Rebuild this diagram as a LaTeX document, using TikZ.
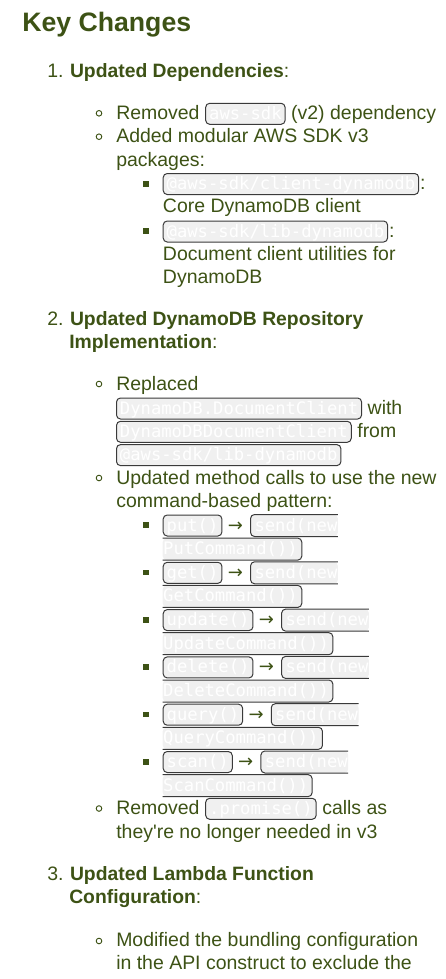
\documentclass[tikz,border=0pt]{standalone}
\usepackage{fontspec}
\setmainfont{Liberation Sans}
\setmonofont{DejaVu Sans Mono}
\newfontfamily\arrowfont{DejaVu Sans}
\usetikzlibrary{positioning}
\definecolor{ink}{RGB}{61,82,21}
\definecolor{codebg}{RGB}{240,240,240}
\definecolor{codeline}{RGB}{58,58,58}
\pgfdeclarelayer{bg}
\pgfsetlayers{bg,main}

\begin{document}
\begin{tikzpicture}[x=0.75pt,y=0.75pt,yscale=-1,xscale=1,
    txt/.style={anchor=base west, inner sep=0pt, text=ink, font=\fontsize{14.6}{17}\selectfont},
    itemhead/.style={txt, font=\fontsize{14.5}{17}\selectfont},
    num/.style={txt},
    arr/.style={txt, font=\fontsize{13.5}{15}\arrowfont},
    ring/.style={circle, draw=ink, line width=0.7pt, minimum size=4.2pt, inner sep=0pt},
    sq/.style={rectangle, fill=ink, minimum size=4.3pt, inner sep=0pt},
    codebox/.style={anchor=base west, font=\fontsize{12.9}{15}\ttfamily, text=white, draw=codeline, fill=codebg, line width=0.75pt, rounded corners=3pt, inner xsep=2.6pt, inner ysep=0pt, text height=12pt, text depth=3.75pt},
    codepart/.style={codebox, draw=none, fill=none, inner xsep=0pt},
    boxfill/.style={fill=codebg, rounded corners=3pt},
    boxline/.style={draw=codeline, line width=0.75pt, rounded corners=3pt},
    headpath/.style={insert path={(#1.north east) -- ([xshift=-2.6pt]#1.north west) -- ([xshift=-2.6pt]#1.south west) -- (#1.south east)}},
    tailpath/.style={insert path={(#1.north west) -- ([xshift=2.6pt]#1.north east) -- ([xshift=2.6pt]#1.south east) -- (#1.south west)}}]
        \useasboundingbox (0,0) rectangle (446,979);

        \node[txt, font=\fontsize{20}{24}\bfseries] (title) at (22,31) {Key Changes};

        % 1. dependencies
        \node[num] (n1) at (47,77) {1.};
        \node[itemhead, base right=4.5pt of n1] (h1) {\textbf{Updated Dependencies}:};
        \node[ring] (r11) at (99,113.3) {};
        \node[txt] (t11) at (116,119.3) {Removed};
        \node[codebox, base right=4pt of t11] (c11) {aws-sdk};
        \node[txt, base right=4pt of c11] (t12) {(v2) dependency};
        \node[ring] (r12) at (99,136.7) {};
        \node[txt] (t13) at (116,142.7) {Added modular AWS SDK v3};
        \node[txt] (t14) at (116,166) {packages:};
        \node[sq] (q11) at (146,183.8) {};
        \node[codebox] (c12) at (162.7,189.5) {@aws-sdk/client-dynamodb};
        \node[txt, base right=0.5pt of c12] (t15) {:};
        \node[txt] (t16) at (162.7,212.7) {Core DynamoDB client};
        \node[sq] (q12) at (146,231.3) {};
        \node[codebox] (c13) at (162.7,237) {@aws-sdk/lib-dynamodb};
        \node[txt, base right=0.5pt of c13] (t17) {:};
        \node[txt] (t18) at (162.7,260) {Document client utilities for};
        \node[txt] (t19) at (162.7,283.5) {DynamoDB};

        % 2. repository
        \node[num] (n2) at (47,325) {2.};
        \node[itemhead, base right=4.5pt of n2] (h2) {\textbf{Updated DynamoDB Repository}};
        \node[itemhead] (h2b) at (69,348.3) {\textbf{Implementation}:};
        \node[ring] (r21) at (99,384) {};
        \node[txt] (t21) at (116,390) {Replaced};
        \node[codebox] (c21) at (116,414) {DynamoDB.DocumentClient};
        \node[txt, base right=4pt of c21] (t22) {with};
        \node[codebox] (c22) at (116,437.3) {DynamoDBDocumentClient};
        \node[txt, base right=4pt of c22] (t23) {from};
        \node[codebox] (c23) at (116,460.6) {@aws-sdk/lib-dynamodb};
        \node[ring] (r22) at (99,478) {};
        \node[txt] (t24) at (116,484) {Updated method calls to use the new};
        \node[txt] (t25) at (116,507.4) {command-based pattern:};

        \node[sq] (q1) at (146,525.3) {};
        \node[codebox] (m1) at (162.7,531) {put()};
        \node[arr, base right=3.9pt of m1] (a1) {→};
        \node[codepart, base right=8.1pt of a1] (s1) {send(new};
        \node[codepart] (p1) at (162.7,554.6) {PutCommand())};

        \node[sq] (q2) at (146,572.6) {};
        \node[codebox] (m2) at (162.7,578.3) {get()};
        \node[arr, base right=3.9pt of m2] (a2) {→};
        \node[codepart, base right=8.1pt of a2] (s2) {send(new};
        \node[codepart] (p2) at (162.7,601.9) {GetCommand())};

        \node[sq] (q3) at (146,619.9) {};
        \node[codebox] (m3) at (162.7,625.6) {update()};
        \node[arr, base right=3.9pt of m3] (a3) {→};
        \node[codepart, base right=8.1pt of a3] (s3) {send(new};
        \node[codepart] (p3) at (162.7,649.2) {UpdateCommand())};

        \node[sq] (q4) at (146,667.2) {};
        \node[codebox] (m4) at (162.7,672.9) {delete()};
        \node[arr, base right=3.9pt of m4] (a4) {→};
        \node[codepart, base right=8.1pt of a4] (s4) {send(new};
        \node[codepart] (p4) at (162.7,696.5) {DeleteCommand())};

        \node[sq] (q5) at (146,714.5) {};
        \node[codebox] (m5) at (162.7,720.2) {query()};
        \node[arr, base right=3.9pt of m5] (a5) {→};
        \node[codepart, base right=8.1pt of a5] (s5) {send(new};
        \node[codepart] (p5) at (162.7,743.8) {QueryCommand())};

        \node[sq] (q6) at (146,761.8) {};
        \node[codebox] (m6) at (162.7,767.5) {scan()};
        \node[arr, base right=3.9pt of m6] (a6) {→};
        \node[codepart, base right=8.1pt of a6] (s6) {send(new};
        \node[codepart] (p6) at (162.7,791.1) {ScanCommand())};

        \node[ring] (r23) at (99,808.5) {};
        \node[txt] (t26) at (116,814.3) {Removed};
        \node[codebox, base right=4pt of t26] (c24) {.promise()};
        \node[txt, base right=4pt of c24] (t27) {calls as};
        \node[txt] (t28) at (116,838) {they\textquotesingle re no longer needed in v3};

        % 3. lambda
        \node[num] (n3) at (47,880) {3.};
        \node[itemhead, base right=4.5pt of n3] (h3) {\textbf{Updated Lambda Function}};
        \node[itemhead] (h3b) at (69,903.3) {\textbf{Configuration}:};
        \node[ring] (r31) at (99,941) {};
        \node[txt] (t31) at (116,946.7) {Modified the bundling configuration};
        \node[txt] (t32) at (116,969.3) {in the API construct to exclude the};

        % boxes broken over two lines
        \begin{pgfonlayer}{bg}
            \fill[boxfill] [headpath=s1] -- cycle;
            \draw[boxline] [headpath=s1];
            \fill[boxfill] [tailpath=p1] -- cycle;
            \draw[boxline] [tailpath=p1];
            \fill[boxfill] [headpath=s2] -- cycle;
            \draw[boxline] [headpath=s2];
            \fill[boxfill] [tailpath=p2] -- cycle;
            \draw[boxline] [tailpath=p2];
            \fill[boxfill] [headpath=s3] -- cycle;
            \draw[boxline] [headpath=s3];
            \fill[boxfill] [tailpath=p3] -- cycle;
            \draw[boxline] [tailpath=p3];
            \fill[boxfill] [headpath=s4] -- cycle;
            \draw[boxline] [headpath=s4];
            \fill[boxfill] [tailpath=p4] -- cycle;
            \draw[boxline] [tailpath=p4];
            \fill[boxfill] [headpath=s5] -- cycle;
            \draw[boxline] [headpath=s5];
            \fill[boxfill] [tailpath=p5] -- cycle;
            \draw[boxline] [tailpath=p5];
            \fill[boxfill] [headpath=s6] -- cycle;
            \draw[boxline] [headpath=s6];
            \fill[boxfill] [tailpath=p6] -- cycle;
            \draw[boxline] [tailpath=p6];
        \end{pgfonlayer}
\end{tikzpicture}
\end{document}
